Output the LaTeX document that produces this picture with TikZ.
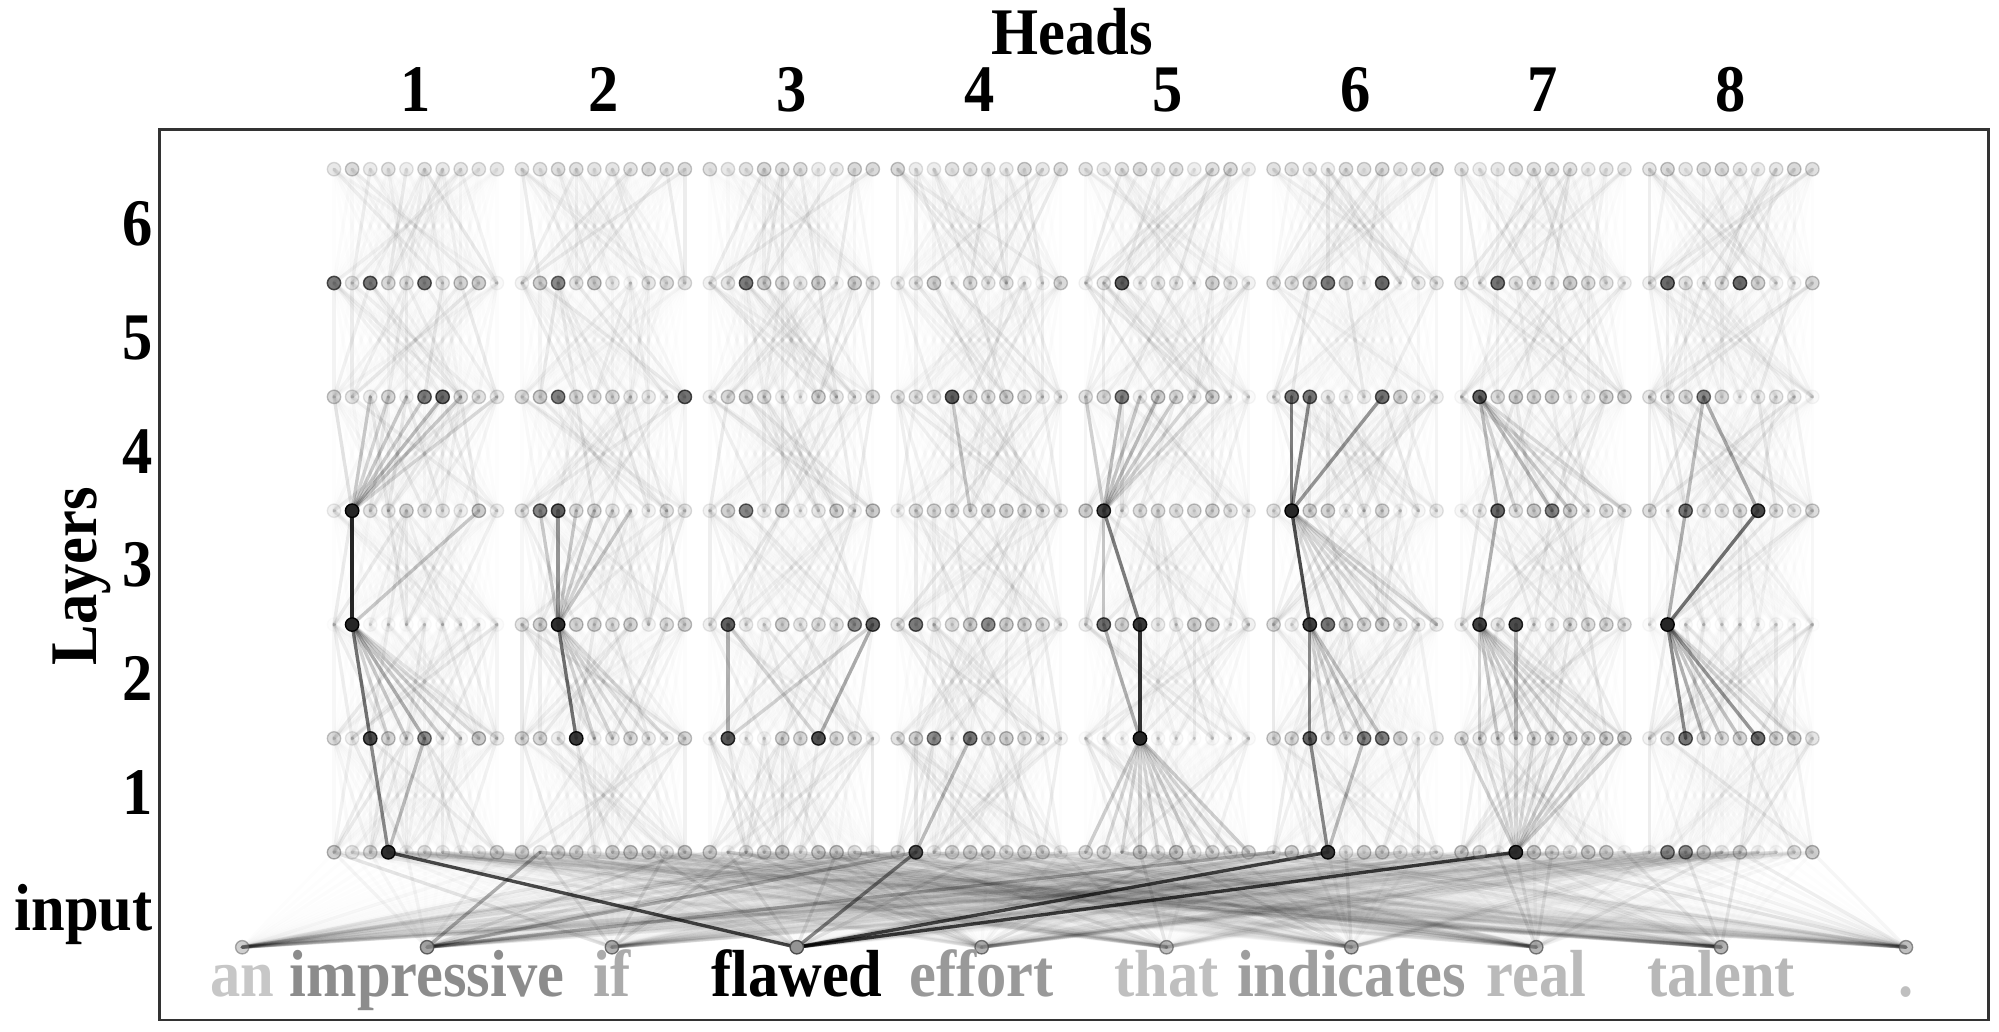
\documentclass[tikz,border=0pt]{standalone}
\usepackage{fontspec}
\setmainfont{Liberation Serif}
\usetikzlibrary{backgrounds}
\newcommand{\tall}[1]{\scalebox{1}[1.1]{#1}}
\tikzset{
  dot/.style    = {circle, inner sep=0pt, minimum size=1.05mm, fill=black!42, draw=black!70, line width=0.3pt},
  hotdot/.style = {dot, fill=black!85, draw=black},
  edge/.style   = {line width=0.75pt, draw=black, line cap=round},
  lab/.style    = {font=\fontsize{13.5}{16}\selectfont\bfseries, inner sep=0pt},
}

\begin{document}
\begin{tikzpicture}[x=0.01cm, y=-0.01cm]
\useasboundingbox (0,0) rectangle (1568,809);
\pgfmathsetseed{4177}

% ---- frame and axis labels ----
\draw[line width=0.6pt, black!80] (125,101.5) rectangle (1560,800);
\node[lab, anchor=base] (heads) at (841,43) {\tall{Heads}};
\foreach \h in {1,...,8}
  \node[lab, anchor=base] (hn-\h) at ({326+147.4*(\h-1)}, 87.6) {\tall{\h}};
\foreach \l in {1,...,6}
  \node[lab, anchor=base east] (ln-\l) at (120.5, {639-89.3*(\l-1)}) {\tall{\l}};
\node[lab, anchor=base east] (inp) at (120.5, 729.5) {\tall{input}};
\node[lab, rotate=90, anchor=base] (layers) at (76,452) {\tall{Layers}};

% ---- token states: 8 heads x 7 rows x 10 tokens ----
\foreach \h in {1,...,8}
  \foreach \r in {0,...,6}
    \foreach \j in {0,...,9}{
      \pgfmathsetmacro\o{(\r==6) ? 0.15+0.2*rnd :
        (((\h==1 && \r==2) || (\h==8 && \r==2) || (\h==5 && \r==1)) ? 0.02+0.03*rnd : 0.05+0.42*rnd)}
      \node[dot, opacity=\o] (d-\h-\r-\j) at ({262+147.4*(\h-1)+14.2*\j}, {668.5-89.3*\r}) {};
    }

% ---- strongly attended states ----
\foreach \n/\o in {1-3-1/1, 1-2-1/1, 1-1-2/.8, 1-0-3/.95, 1-1-5/.45, 1-4-5/.5, 1-4-6/.6, 1-5-0/.5, 1-5-2/.55, 1-5-5/.5,
    2-2-2/.95, 2-1-3/.9, 2-3-2/.65, 2-3-1/.45, 2-4-9/.55, 2-4-2/.55, 2-5-2/.5,
    3-2-1/.7, 3-2-9/.7, 3-2-8/.5, 3-1-1/.7, 3-1-6/.75, 3-3-2/.5, 3-5-2/.5,
    4-0-1/.75, 4-4-3/.7, 4-1-4/.6, 4-1-2/.5, 4-2-5/.5, 4-2-1/.5,
    5-3-1/.85, 5-2-3/.9, 5-2-1/.6, 5-1-3/1, 5-5-2/.7, 5-4-2/.5,
    6-3-1/1, 6-2-2/.85, 6-2-3/.6, 6-1-2/.7, 6-1-5/.55, 6-1-6/.5, 6-0-3/.9, 6-4-1/.6, 6-4-2/.6, 6-4-6/.55, 6-5-6/.6, 6-5-3/.5,
    7-4-1/.7, 7-2-1/.85, 7-2-3/.8, 7-3-2/.6, 7-0-3/.95, 7-5-2/.55, 7-3-5/.5,
    8-2-1/1, 8-3-2/.6, 8-3-6/.8, 8-1-2/.6, 8-1-6/.6, 8-5-1/.6, 8-5-5/.6, 8-4-3/.5, 8-0-1/.45, 8-0-2/.45}
  \node[hotdot, opacity=\o] (hot-\n) at (d-\n) {};

% ---- input words ----
\foreach \w/\o/\c [count=\i from 0] in {an/.45/22, impressive/.85/45, if/.75/33, flawed/1/100, effort/.75/40,
    that/.6/25, indicates/.75/38, real/.7/27, talent/.7/28, ./.6/25}{
  \node[dot, opacity=\o] (w-\i) at ({190+145*\i}, 743) {};
  \node[lab, text=black!\c, anchor=base] (word-\i) at ({190+145*\i}, 782) {\tall{\w}};
}

\begin{scope}[on background layer]
% ---- faint attention between consecutive layers ----
\foreach \h in {1,...,8}
  \foreach \r [count=\s from 1] in {0,...,5}
    \foreach \i in {0,...,9}
      \foreach \j in {0,...,9}{
        \pgfmathsetmacro\o{0.008+0.075*rnd^5}
        \draw[edge, opacity=\o] (d-\h-\r-\i.center) -- (d-\h-\s-\j.center);
      }
\foreach \h in {1,...,8}
  \foreach \i in {0,...,9}
    \foreach \j in {0,...,9}{
      \pgfmathsetmacro\o{0.008+0.1*rnd^6}
      \draw[edge, opacity=\o] (d-\h-0-\i.center) -- (w-\j.center);
    }

% ---- fans out of the strong states ----
\foreach \j/\o in {0/.1, 2/.2, 3/.15, 4/.2, 5/.18, 6/.25, 7/.2, 9/.12}
  \draw[edge, opacity=\o] (d-1-3-1.center) -- (d-1-4-\j.center);
\foreach \j/\o in {3/.15, 4/.2, 5/.3, 6/.18, 7/.15, 8/.12, 9/.08}
  \draw[edge, opacity=\o] (d-1-2-1.center) -- (d-1-1-\j.center);
\foreach \j/\o in {1/.2, 3/.2, 4/.18, 5/.15, 6/.2}
  \draw[edge, opacity=\o] (d-2-2-2.center) -- (d-2-3-\j.center);
\foreach \j/\o in {4/.12, 5/.15, 6/.12, 7/.1, 8/.12}
  \draw[edge, opacity=\o] (d-2-2-2.center) -- (d-2-1-\j.center);
\foreach \j in {0,...,9}
  \draw[edge, opacity=.14] (d-5-1-3.center) -- (d-5-0-\j.center);
\foreach \j/\o in {0/.15, 2/.25, 3/.2, 4/.25, 5/.18, 6/.15, 7/.12}
  \draw[edge, opacity=\o] (d-5-3-1.center) -- (d-5-4-\j.center);
\foreach \j in {3,...,9}
  \draw[edge, opacity=.1] (d-6-3-1.center) -- (d-6-2-\j.center);
\foreach \j/\o in {3/.15, 4/.15, 5/.2, 6/.2}
  \draw[edge, opacity=\o] (d-6-2-2.center) -- (d-6-1-\j.center);
\foreach \j in {0,...,9}
  \draw[edge, opacity=.12] (d-7-1-\j.center) -- (d-7-0-3.center);
\foreach \j/\o in {1/.15, 2/.2, 3/.15, 4/.18, 5/.12, 6/.15, 7/.1, 8/.12}
  \draw[edge, opacity=\o] (d-7-2-1.center) -- (d-7-1-\j.center);
\foreach \j/\o in {2/.2, 3/.15, 5/.2, 6/.15, 7/.12, 9/.12}
  \draw[edge, opacity=\o] (d-7-4-1.center) -- (d-7-3-\j.center);
\foreach \j/\o in {2/.45, 3/.25, 4/.2, 5/.2, 6/.4, 7/.15, 8/.12}
  \draw[edge, opacity=\o] (d-8-2-1.center) -- (d-8-1-\j.center);

% ---- strongest paths ----
\foreach \a/\b/\o in {1-3-1/1-2-1/.85, 1-2-1/1-1-2/.55, 1-1-2/1-0-3/.45, 1-1-5/1-0-3/.25, 1-2-1/1-3-8/.2,
    2-3-2/2-2-2/.4, 2-2-2/2-1-3/.55,
    3-2-1/3-1-1/.3, 3-2-9/3-1-6/.3, 3-2-1/3-1-6/.15, 3-2-9/3-1-1/.15,
    4-1-4/4-0-1/.25, 4-4-3/4-3-4/.2,
    5-3-1/5-2-3/.5, 5-3-1/5-2-1/.2, 5-2-3/5-1-3/.8, 5-2-1/5-1-3/.3,
    6-3-1/6-4-1/.5, 6-3-1/6-4-2/.45, 6-3-1/6-4-6/.4, 6-3-1/6-2-2/.7, 6-2-2/6-1-2/.45,
    6-1-2/6-0-3/.45, 6-1-5/6-0-3/.25,
    7-2-1/7-3-2/.3, 7-2-3/7-1-3/.25,
    8-2-1/8-3-6/.55, 8-2-1/8-3-2/.3, 8-3-6/8-4-3/.3, 8-3-2/8-4-3/.2}
  \draw[edge, opacity=\o] (d-\a.center) -- (d-\b.center);
\foreach \a/\o in {1-0-3/.7, 4-0-1/.45, 6-0-3/.7, 7-0-3/.7}
  \draw[edge, opacity=\o] (d-\a.center) -- (w-3.center);
\foreach \a/\o in {2-0-1/.3, 4-0-1/.25, 6-0-0/.2}
  \draw[edge, opacity=\o] (d-\a.center) -- (w-1.center);
\end{scope}

\end{tikzpicture}
\end{document}
